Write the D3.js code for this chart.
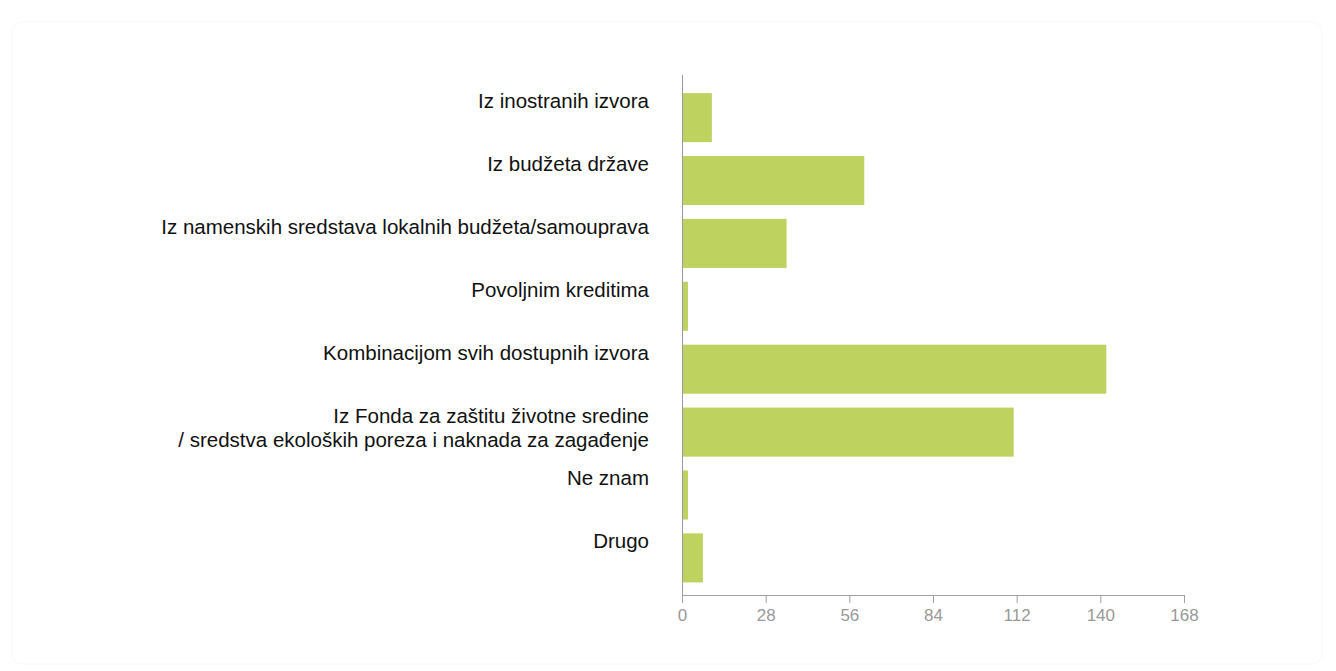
<!DOCTYPE html>
<html>
<head>
<meta charset="utf-8">
<script src="https://cdn.jsdelivr.net/npm/d3@7"></script>
<style>
  html, body { margin: 0; padding: 0; background: #ffffff; }
  svg { display: block; }
</style>
</head>
<body>
<svg id="chart" width="1336" height="671"></svg>
<script>
const categories = [
  "Iz inostranih izvora",
  "Iz budžeta države",
  "Iz namenskih sredstava lokalnih budžeta/samouprava",
  "Povoljnim kreditima",
  "Kombinacijom svih dostupnih izvora",
  "Iz Fonda za zaštitu životne sredine\n/ sredstva ekoloških poreza i naknada za zagađenje",
  "Ne znam",
  "Drugo"
];
const values = [10, 61, 35, 2, 142, 111, 2, 7];
const tickValues = [0, 28, 56, 84, 112, 140, 168];

const svg = d3.select("#chart");
const font = "'Liberation Sans', Arial, Helvetica, sans-serif";

// faint card outline
svg.append("rect")
  .attr("x", 12).attr("y", 22).attr("width", 1310).attr("height", 642)
  .attr("rx", 10)
  .attr("fill", "none").attr("stroke", "#f8f8f8").attr("stroke-width", 1);

const x = d3.scaleLinear().domain([0, 168]).range([682, 1184]);
const y = d3.scaleBand().domain(categories).range([75, 595])
  .paddingInner(0.22).paddingOuter(0.244).align(0.59);

// bars
svg.append("g").selectAll("rect")
  .data(categories)
  .join("rect")
  .attr("x", x(0))
  .attr("y", d => y(d))
  .attr("width", (d, i) => x(values[i]) - x(0))
  .attr("height", y.bandwidth())
  .attr("fill", "#bed35f");

// y axis line
svg.append("line")
  .attr("x1", x(0) + 0.5).attr("x2", x(0) + 0.5)
  .attr("y1", 75).attr("y2", 595)
  .attr("stroke", "#9a9aa6").attr("stroke-width", 1);

// x axis
const xAxis = d3.axisBottom(x).tickValues(tickValues).tickSize(8).tickSizeOuter(0).tickPadding(6);
const gx = svg.append("g").attr("transform", "translate(0,595)").call(xAxis);
gx.select(".domain").attr("stroke", "#a0a0a0");
gx.selectAll(".tick line").attr("stroke", "#a0a0a0");
gx.selectAll(".tick text")
  .attr("fill", "#999999")
  .style("font-family", font)
  .style("font-size", "17px");

// category labels (top aligned with bar top, right aligned)
const labels = svg.append("g");
categories.forEach((c, i) => {
  const lines = c.split("\n");
  const t = labels.append("text")
    .attr("text-anchor", "end")
    .attr("fill", "#111111")
    .style("font-family", font)
    .style("font-size", "20.5px");
  lines.forEach((ln, j) => {
    t.append("tspan")
      .attr("x", 649)
      .attr("y", y(c) + 15 + j * 24)
      .text(ln);
  });
});
</script>
</body>
</html>
